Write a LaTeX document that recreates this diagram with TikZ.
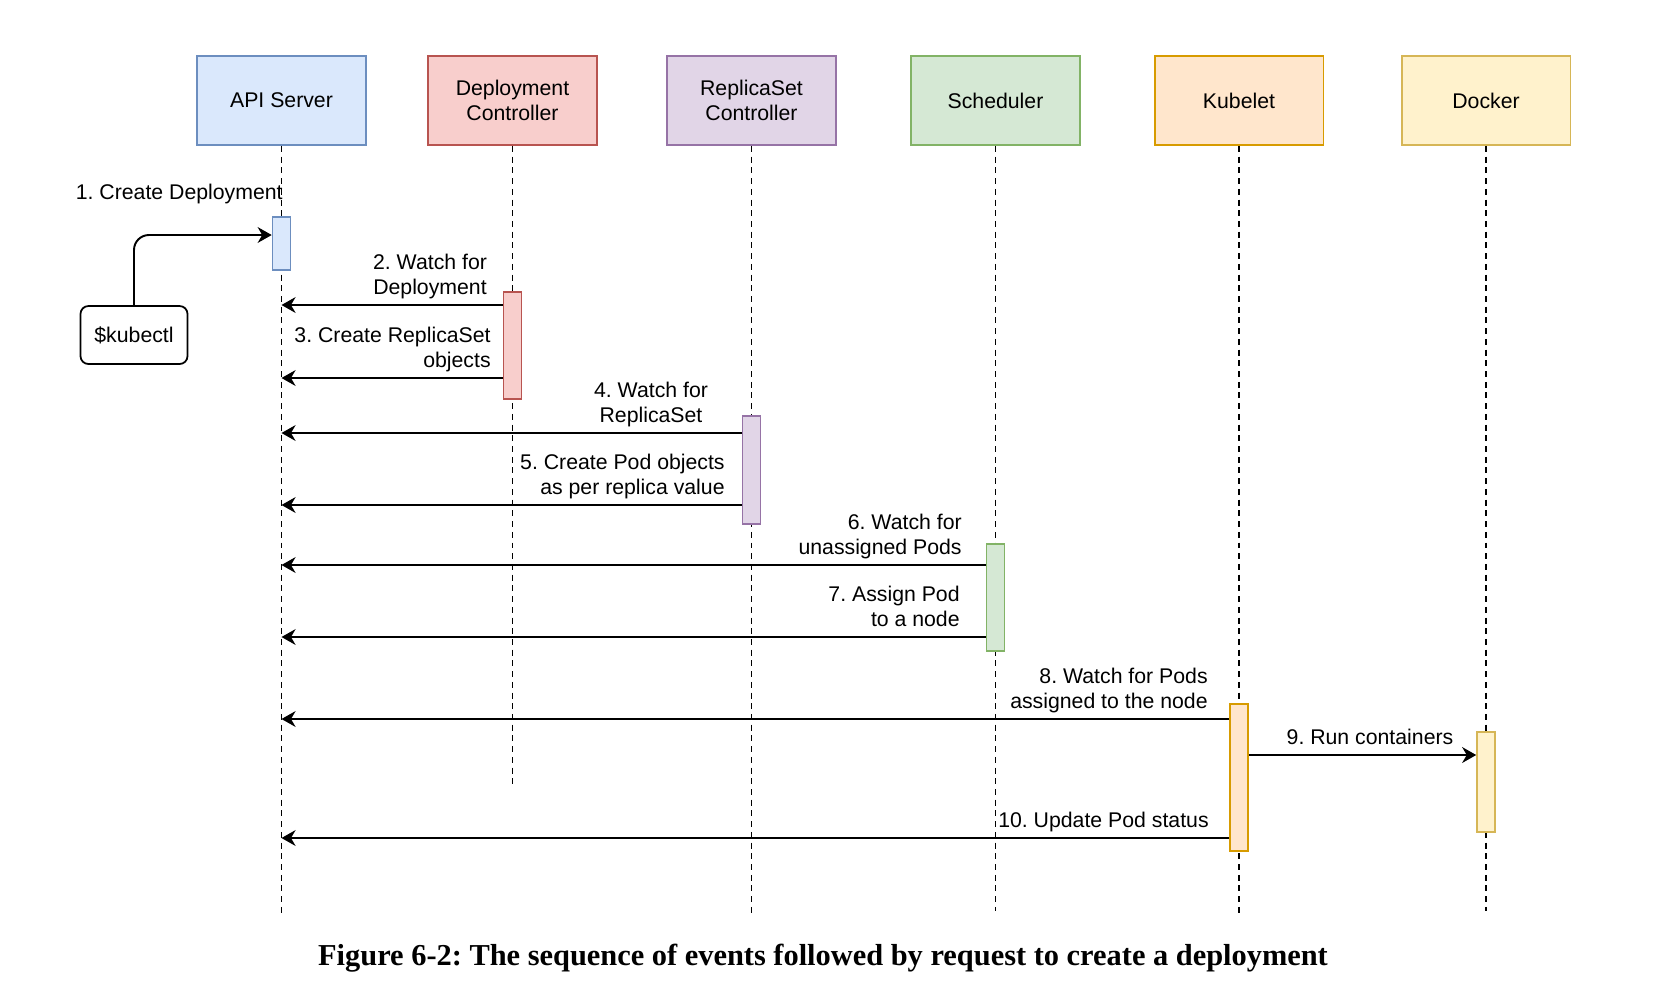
\documentclass[tikz,border=0pt]{standalone}
\usepackage{fontspec}
\setmainfont{Liberation Sans}
\newfontfamily\captionSerif{Liberation Serif}
\usepackage{tikz}
\usetikzlibrary{arrows.meta, calc}
\frenchspacing
\newcommand{\diagFont}{\fontsize{12.1}{14.2}\selectfont}
\definecolor{apiFill}{HTML}{DAE8FC}
\definecolor{apiLine}{HTML}{6C8EBF}
\definecolor{depFill}{HTML}{F8CECC}
\definecolor{depLine}{HTML}{B85450}
\definecolor{rsFill}{HTML}{E1D5E7}
\definecolor{rsLine}{HTML}{9673A6}
\definecolor{schedFill}{HTML}{D5E8D4}
\definecolor{schedLine}{HTML}{82B366}
\definecolor{kubeFill}{HTML}{FFE6CC}
\definecolor{kubeLine}{HTML}{D79B00}
\definecolor{dockFill}{HTML}{FFF2CC}
\definecolor{dockLine}{HTML}{D6B656}
\newcommand{\participants}{%
    api/281.5/{API Server}/913,
    dep/512.5/{Deployment\\Controller}/786,
    rs/751.5/{ReplicaSet\\Controller}/915,
    sched/995.5/{Scheduler}/911,
    kube/1239/{Kubelet}/916,
    dock/1486/{Docker}/911%
}
\newcommand{\activations}{%
    api/216/269,
    dep/291/398,
    rs/415/523,
    sched/543/650,
    kube/703/850,
    dock/731/831%
}
\newcommand{\messages}{%
    dep/305/{2. Watch for\\Deployment}/430/center,
    dep/378/{3. Create ReplicaSet\\objects}/491/right,
    rs/433/{4. Watch for\\ReplicaSet}/651/center,
    rs/505/{5. Create Pod objects\\as per replica value}/725/right,
    sched/565/{6. Watch for\\unassigned Pods}/962/right,
    sched/637/{7. Assign Pod\\to a node}/960/right,
    kube/719/{8. Watch for Pods\\assigned to the node}/1208/right,
    kube/838/{10. Update Pod status}/1209/right%
}
\begin{document}
\begin{tikzpicture} [
        x=0.02cm, y=-0.02cm,
        actor/.style={draw, line width=1.1pt, minimum width=3.38cm, minimum height=1.78cm, align=center, font=\diagFont},
        bar/.style={draw, line width=0.9pt, minimum width=0.36cm, inner sep=0, anchor=north},
        lifeline/.style={line width=1pt, dash pattern=on 3.4pt off 2.7pt},
        msg/.style={line width=1.1pt, -{Stealth[length=8pt, width=9pt, inset=2.6pt]}},
        note/.style={font=\diagFont, inner sep=0, text depth=0pt},
        note center/.style={anchor=south, align=center},
        note right/.style={anchor=south east, align=right},
        cli/.style={draw, line width=1pt, rounded corners=4.5pt, minimum width=2.14cm, minimum height=1.16cm, font=\diagFont},
        api/.style={fill=apiFill, draw=apiLine},
        dep/.style={fill=depFill, draw=depLine},
        rs/.style={fill=rsFill, draw=rsLine},
        sched/.style={fill=schedFill, draw=schedLine},
        kube/.style={fill=kubeFill, draw=kubeLine},
        dock/.style={fill=dockFill, draw=dockLine},
    ]
    \useasboundingbox (0,0) rectangle (1672,988);

    \foreach \name/\xpos/\lbl/\life [expand list] in {\participants} {
        \node[actor, \name] (\name) at (\xpos,100.5) {\lbl};
        \draw[lifeline] (\name.south) -- (\name.south |- 0,\life);
    }

    \foreach \name/\top/\bottom [expand list] in {\activations} {
        \pgfmathsetmacro{\barHeight}{(\bottom-\top)*0.02}
        \node[bar, \name, minimum height=\barHeight cm] (bar \name) at (\name.south |- 0,\top) {};
    }

    % request from the command line
    \node[cli] (kubectl) at (134,335) {\$kubectl};
    \draw[msg, rounded corners=8.5pt] (kubectl.north) |- (bar api.west |- 0,235);
    \node[note, anchor=south east] (note 1) at (283,200) {1. Create Deployment};

    \foreach \from/\y/\lbl/\lx/\side [expand list, count=\n from 2] in {\messages} {
        \draw[msg] (bar \from.west |- 0,\y) -- (api.south |- 0,\y);
        \node[note, note \side] (note \n) at (\lx,\y-10) {\lbl};
    }

    \draw[msg] (bar kube.east |- 0,755) -- (bar dock.west |- 0,755);
    \node[note, note center] (note run) at (1370,745) {9. Run containers};

    \node[font=\captionSerif\bfseries\fontsize{17.3}{20}\selectfont] (caption) at (823,958)
        {Figure 6-2: The sequence of events followed by request to create a deployment};
\end{tikzpicture}
\end{document}
